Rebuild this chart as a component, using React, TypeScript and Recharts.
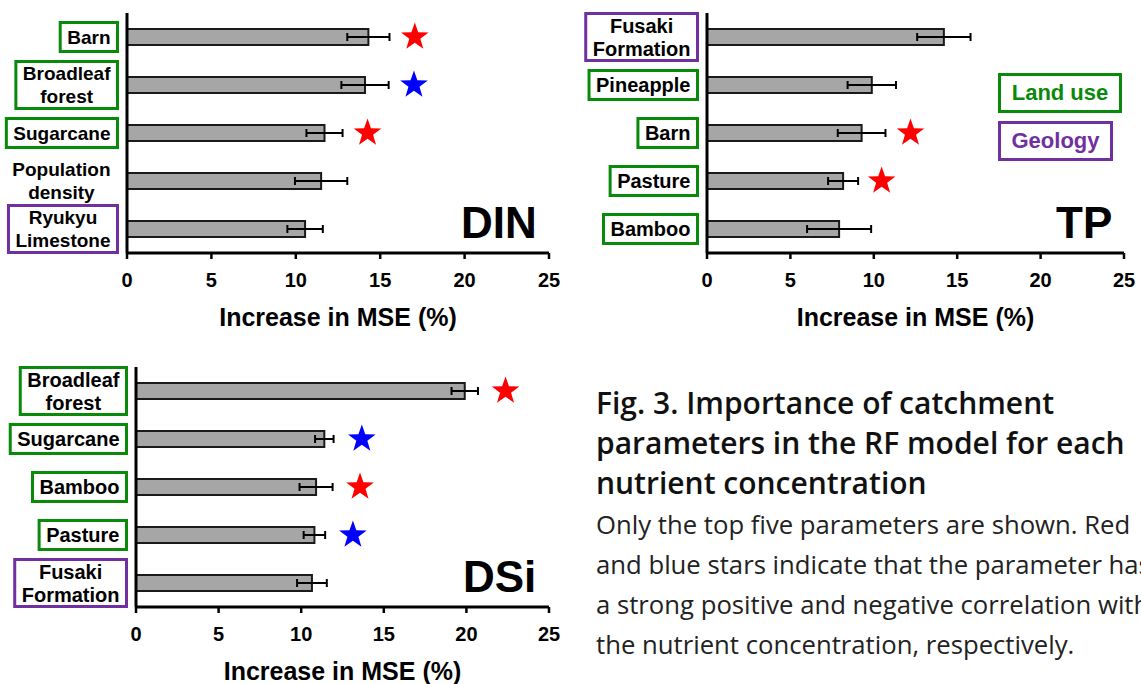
import React from 'react'
import { BarChart, Bar, XAxis, YAxis, ErrorBar } from 'recharts'

// ---- data ----
const xTicks = [0, 5, 10, 15, 20, 25]

const dinParams = ['Barn', 'Broadleaf\nforest', 'Sugarcane', 'Population\ndensity', 'Ryukyu\nLimestone']
const dinKinds = ['land', 'land', 'land', 'other', 'geology']
const dinMse = [14.3, 14.1, 11.7, 11.5, 10.55]
const dinErr = [1.25, 1.4, 1.07, 1.55, 1.05]
const dinStarAt = [17.05, 17.0, 14.25, null, null]
const dinStarSign = ['pos', 'neg', 'pos', null, null]

const tpParams = ['Fusaki\nFormation', 'Pineapple', 'Barn', 'Pasture', 'Bamboo']
const tpKinds = ['geology', 'land', 'land', 'land', 'land']
const tpMse = [14.2, 9.88, 9.27, 8.16, 7.92]
const tpErr = [1.6, 1.45, 1.43, 0.9, 1.92]
const tpStarAt = [null, null, 12.2, 10.47, null]
const tpStarSign = [null, null, 'pos', 'pos', null]

const dsiParams = ['Broadleaf\nforest', 'Sugarcane', 'Bamboo', 'Pasture', 'Fusaki\nFormation']
const dsiKinds = ['land', 'land', 'land', 'land', 'geology']
const dsiMse = [19.9, 11.4, 10.9, 10.8, 10.65]
const dsiErr = [0.8, 0.56, 1.0, 0.65, 0.9]
const dsiStarAt = [22.37, 13.67, 13.56, 13.13, null]
const dsiStarSign = ['pos', 'neg', 'pos', 'neg', null]

const GREEN = '#0a8a0a'
const PURPLE = '#7030a0'
const FONT = '"Liberation Sans", Arial, sans-serif'

const kindColor: Record<string, string | null> = { land: GREEN, geology: PURPLE, other: null }
const starColor: Record<string, string> = { pos: '#ff0000', neg: '#0000ff' }

let measureCtx: CanvasRenderingContext2D | null = null
function textWidth(text: string, font: string) {
  if (!measureCtx) measureCtx = document.createElement('canvas').getContext('2d')
  if (!measureCtx) return text.length * 10
  measureCtx.font = font
  return measureCtx.measureText(text).width
}

function starPoints(cx: number, cy: number, R: number) {
  const r = R * 0.4
  const pts: string[] = []
  for (let i = 0; i < 10; i++) {
    const a = -Math.PI / 2 + (i * Math.PI) / 5
    const rad = i % 2 === 0 ? R : r
    pts.push(`${cx + rad * Math.cos(a)},${cy + rad * Math.sin(a)}`)
  }
  return pts.join(' ')
}

function buildRows(params: string[], mse: number[], err: number[], starAt: (number | null)[], sign: (string | null)[]) {
  return params.map((name, i) => ({ name, mse: mse[i], err: err[i], starAt: starAt[i], sign: sign[i] }))
}

// bar rect plus the correlation star, placed with the bar's own px-per-unit
const BarWithStar = (props: any) => {
  const { x, y, width, height, payload } = props
  const row = payload || {}
  let star = null
  if (row.starAt != null && row.mse > 0 && width > 0) {
    const perUnit = width / row.mse
    star = (
      <polygon
        points={starPoints(x + row.starAt * perUnit, y + height / 2, 14.5)}
        fill={starColor[row.sign]}
      />
    )
  }
  return (
    <g>
      <rect x={x} y={y} width={width} height={height} fill="#a6a6a6" stroke="#1a1a1a" strokeWidth={2} />
      {star}
    </g>
  )
}

const ParamTick = (props: any) => {
  const { x, y, payload, params, kinds, fontSize } = props
  const name: string = payload.value
  const lines = name.split('\n')
  const color = kindColor[kinds[params.indexOf(name)]]
  const font = `bold ${fontSize}px ${FONT}`
  const maxW = Math.max(...lines.map((l) => textWidth(l, font)))
  const right = x - 1.5
  const boxW = maxW + 14
  const boxH = lines.length > 1 ? 47 : 29
  const cx = right - boxW / 2
  const lh = 23
  return (
    <g>
      {color && (
        <rect x={right - boxW} y={y - boxH / 2} width={boxW} height={boxH} fill="#fff" stroke={color} strokeWidth={3} />
      )}
      <text textAnchor="middle" fontSize={fontSize} fontWeight="bold" fill="#000" fontFamily={FONT}>
        {lines.map((l, i) => (
          <tspan key={i} x={cx} y={y + (i - (lines.length - 1) / 2) * lh} dominantBaseline="central">
            {l}
          </tspan>
        ))}
      </text>
    </g>
  )
}

interface PanelProps {
  rows: any[]
  params: string[]
  kinds: string[]
  left: number
  top: number
  width: number
  axisWidth: number
  rightPad: number
  fontSize: number
  tag: string
  tagLeft: number
}

function Panel({ rows, params, kinds, left, top, width, axisWidth, rightPad, fontSize, tag, tagLeft }: PanelProps) {
  return (
    <div style={{ position: 'absolute', left, top, width, height: 340 }}>
      <BarChart
        layout="vertical"
        width={width}
        height={340}
        data={rows}
        margin={{ top: 13, right: rightPad, bottom: 0, left: 0 }}
      >
        <XAxis
          type="number"
          domain={[0, 25]}
          ticks={xTicks}
          interval={0}
          height={87}
          axisLine={{ stroke: '#000', strokeWidth: 3 }}
          tickLine={{ stroke: '#000', strokeWidth: 2.5 }}
          tickSize={6}
          tickMargin={14}
          tick={{ fontSize: 20, fontWeight: 'bold', fill: '#000', fontFamily: FONT }}
          label={{
            value: 'Increase in MSE (%)',
            position: 'insideBottom',
            offset: 14,
            fontSize: 25,
            fontWeight: 'bold',
            fill: '#000',
            fontFamily: FONT,
          }}
        />
        <YAxis
          type="category"
          dataKey="name"
          width={axisWidth}
          interval={0}
          axisLine={{ stroke: '#000', strokeWidth: 3 }}
          tickLine={false}
          tickSize={6}
          tickMargin={2}
          tick={<ParamTick params={params} kinds={kinds} fontSize={fontSize} />}
        />
        <Bar dataKey="mse" barSize={16} isAnimationActive={false} shape={BarWithStar}>
          <ErrorBar dataKey="err" direction="x" width={4} stroke="#000" strokeWidth={2} />
        </Bar>
      </BarChart>
      <div
        style={{
          position: 'absolute',
          left: tagLeft,
          top: 201,
          fontFamily: FONT,
          fontWeight: 'bold',
          fontSize: 44,
          lineHeight: '44px',
          color: '#000',
        }}
      >
        {tag}
      </div>
    </div>
  )
}

const legendBox = (color: string): React.CSSProperties => ({
  position: 'absolute',
  left: 998,
  height: 40,
  boxSizing: 'border-box',
  border: `3px solid ${color}`,
  color,
  display: 'flex',
  alignItems: 'center',
  justifyContent: 'center',
  fontFamily: FONT,
  fontWeight: 'bold',
  fontSize: 22,
  background: '#fff',
})

export default function App() {
  return (
    <div
      style={{
        position: 'absolute',
        left: 0,
        top: 0,
        width: 1141,
        height: 684,
        overflow: 'hidden',
        background: '#fff',
      }}
    >
      <Panel
        rows={buildRows(dinParams, dinMse, dinErr, dinStarAt, dinStarSign)}
        params={dinParams}
        kinds={dinKinds}
        left={0}
        top={0}
        width={560}
        axisWidth={127}
        rightPad={11}
        fontSize={19}
        tag="DIN"
        tagLeft={461}
      />
      <Panel
        rows={buildRows(tpParams, tpMse, tpErr, tpStarAt, tpStarSign)}
        params={tpParams}
        kinds={tpKinds}
        left={570}
        top={0}
        width={571}
        axisWidth={137}
        rightPad={17}
        fontSize={20}
        tag="TP"
        tagLeft={486}
      />
      <Panel
        rows={buildRows(dsiParams, dsiMse, dsiErr, dsiStarAt, dsiStarSign)}
        params={dsiParams}
        kinds={dsiKinds}
        left={0}
        top={354}
        width={560}
        axisWidth={136}
        rightPad={11}
        fontSize={20}
        tag="DSi"
        tagLeft={463}
      />

      <div style={{ ...legendBox(GREEN), top: 73, width: 124 }}>Land use</div>
      <div style={{ ...legendBox(PURPLE), top: 121, width: 115 }}>Geology</div>

      <div
        style={{
          position: 'absolute',
          left: 596,
          top: 383,
          fontFamily: '"Open Sans", "Noto Sans", sans-serif',
          whiteSpace: 'nowrap',
        }}
      >
        <div style={{ fontSize: 30, lineHeight: '40px', fontWeight: 600, color: '#111' }}>
          Fig. 3. Importance of catchment
          <br />
          parameters in the RF model for each
          <br />
          nutrient concentration
        </div>
        <div style={{ fontSize: 25.7, lineHeight: '40px', fontWeight: 400, color: '#222', marginTop: 2 }}>
          Only the top five parameters are shown. Red
          <br />
          and blue stars indicate that the parameter has
          <br />
          a strong positive and negative correlation with
          <br />
          the nutrient concentration, respectively.
        </div>
      </div>
    </div>
  )
}
